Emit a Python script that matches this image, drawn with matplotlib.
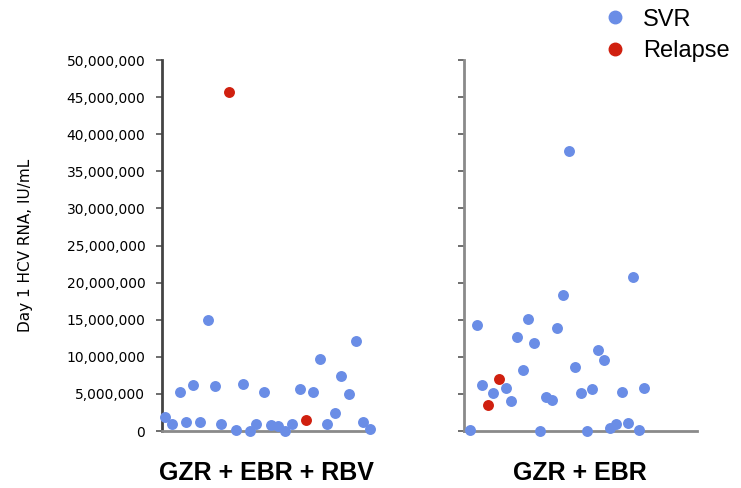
import matplotlib.pyplot as plt
from matplotlib.ticker import FuncFormatter
from matplotlib.lines import Line2D

# Données (charge virale en millions IU/mL)
# Bras GZR + EBR + RBV
gauche_svr_x = [1.4, 4.6, 8.6, 11.4, 14.9, 18.1, 22.0, 25.2, 28.1, 35.2, 38.7, 41.9, 44.8, 48.6,
                51.8, 55.1, 58.6, 61.8, 65.7, 72.0, 75.2, 78.7, 82.4, 85.2, 89.0, 92.4, 95.9, 99.0]
gauche_svr_y = [1.9, 1.0, 5.3, 1.2, 6.2, 1.2, 15.0, 6.0, 1.0, 0.1, 6.3, 0.0, 0.9, 5.2,
                0.8, 0.7, 0.05, 0.9, 5.7, 5.3, 9.7, 1.0, 2.4, 7.45, 5.0, 12.2, 1.2, 0.3]
gauche_rel_x = [31.9, 68.4]
gauche_rel_y = [45.7, 1.45]

# Bras GZR + EBR
droite_svr_x = [2.6, 5.4, 7.6, 12.6, 17.9, 20.2, 22.6, 25.2, 27.6, 30.2, 32.6, 35.2, 37.8, 40.1, 42.6,
                45.1, 47.6, 50.1, 52.7, 55.1, 57.6, 60.1, 62.7, 65.1, 67.7, 70.3, 72.4, 75.1, 77.4]
droite_svr_y = [0.13, 14.3, 6.24, 5.16, 5.84, 4.04, 12.7, 8.2, 15.1, 11.86, 0.0, 4.62, 4.2, 13.9, 18.3,
                37.8, 8.58, 5.16, 0.0, 5.7, 10.96, 9.6, 0.36, 0.9, 5.3, 1.08, 20.8, 0.13, 5.84]
droite_rel_x = [10.4, 15.2]
droite_rel_y = [3.46, 6.97]

groupes = ["GZR + EBR + RBV", "GZR + EBR"]
bleu = "#6a8de6"
rouge = "#d0200f"

fig = plt.figure(figsize=(7.41, 4.88), dpi=100)
ax1 = fig.add_axes([0.2186, 0.1168, 0.2834, 0.760])
ax2 = fig.add_axes([0.6262, 0.1168, 0.3144, 0.760])


def tracer(ax, sx, sy, rx, ry):
    '''Nuage de points d'un bras de traitement'''
    ax.scatter(sx, [v * 1e6 for v in sy], s=62, color=bleu, zorder=3, clip_on=False, lw=0)
    ax.scatter(rx, [v * 1e6 for v in ry], s=62, color=rouge, zorder=3, clip_on=False, lw=0)
    ax.set_ylim(0, 50e6)
    ax.set_yticks(range(0, 50000001, 5000000))
    ax.set_xticks([])
    ax.spines['top'].set_visible(False)
    ax.spines['right'].set_visible(False)
    ax.spines['bottom'].set_color("#8a8a8a")
    ax.spines['bottom'].set_linewidth(2)
    ax.spines['left'].set_linewidth(2)
    ax.tick_params(axis='y', direction='out', length=4, width=1.2, color="#555555")


tracer(ax1, gauche_svr_x, gauche_svr_y, gauche_rel_x, gauche_rel_y)
ax1.set_xlim(0, 100)
ax1.spines['left'].set_color("#444444")
ax1.yaxis.set_major_formatter(FuncFormatter(lambda v, p: "{:,}".format(int(v))))
ax1.tick_params(axis='y', labelsize=10, pad=8)
ax1.set_ylabel("Day 1 HCV RNA, IU/mL", fontsize=11, labelpad=24)

tracer(ax2, droite_svr_x, droite_svr_y, droite_rel_x, droite_rel_y)
ax2.set_xlim(0, 100)
ax2.spines['left'].set_color("#8a8a8a")
ax2.set_yticklabels([])

# Noms des bras sous les axes
fig.text(0.359, 0.030, groupes[0], ha='center', va='center', fontsize=18, fontweight='bold',
         family='Liberation Sans')
fig.text(0.783, 0.030, groupes[1], ha='center', va='center', fontsize=18, fontweight='bold',
         family='Liberation Sans')

# Légende
poignees = [Line2D([], [], ls='', marker='o', ms=9, color=bleu, mec=bleu),
            Line2D([], [], ls='', marker='o', ms=9, color=rouge, mec=rouge)]
fig.legend(poignees, ["SVR", "Relapse"], loc='upper left', bbox_to_anchor=(0.782, 1.026),
           frameon=False, prop={'family': 'Liberation Sans', 'size': 17},
           handletextpad=0.6, labelspacing=0.4, handlelength=1.2)

plt.savefig("out.png")
